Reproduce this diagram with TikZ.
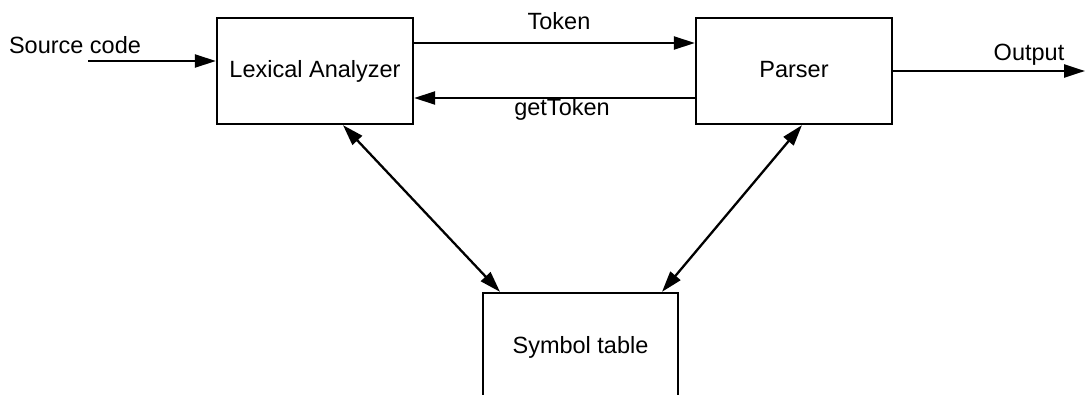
\documentclass[tikz,border=0pt]{standalone}
\usepackage{fontspec}
\setmainfont{Liberation Sans}
\usetikzlibrary{arrows.meta}
\begin{document}
\begin{tikzpicture}[x=1pt,y=-1pt,
  box/.style={draw,line width=2.3pt,inner sep=0pt,font=\fontsize{23.5}{27}\selectfont,
    text height=17pt,text depth=5pt},
  lbl/.style={inner sep=0pt,anchor=base,font=\fontsize{23.5}{27}\selectfont},
  conn/.style={line width=2.3pt,-{Triangle[length=21pt,width=13pt]}},
  bconn/.style={line width=2.3pt,{Triangle[length=21pt,width=13pt]}-{Triangle[length=21pt,width=13pt]}}]
\useasboundingbox (0,0) rectangle (1085,394);
\clip (0,0) rectangle (1085,394);
\node[box,minimum width=196pt,minimum height=106pt] (lex) at (315,71) {Lexical Analyzer};
\node[box,minimum width=196pt,minimum height=106pt] (par) at (794,71) {Parser};
\node[box,minimum width=195pt,minimum height=108pt] (sym) at (580.5,347) {Symbol table};
\node[lbl] (src) at (75,53) {Source code};
\node[lbl] (tok) at (559,29) {Token};
\node[lbl] (get) at (562,115) {getToken};
\node[lbl] (out) at (1029,60) {Output};
\coordinate (srcstart) at (88,61);
\coordinate (outend) at (1085,71);
\draw[conn] (srcstart) -- ([yshift=10pt]lex.west);
\draw[conn] ([yshift=28pt]lex.east) -- ([yshift=28pt]par.west);
\draw[conn] ([yshift=-27pt]par.west) -- ([yshift=-27pt]lex.east);
\draw[conn] (par.east) -- (outend);
\draw[bconn] ([xshift=28pt]lex.south) -- ([xshift=-80.5pt]sym.north);
\draw[bconn] ([xshift=8pt]par.south) -- ([xshift=81.5pt]sym.north);
\end{tikzpicture}
\end{document}
